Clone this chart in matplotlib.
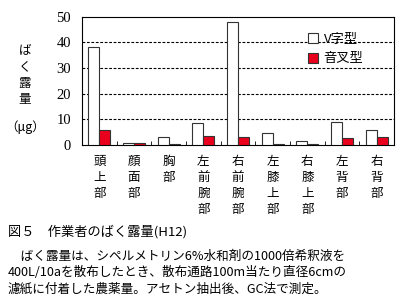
import matplotlib
matplotlib.use("Agg")
import matplotlib.pyplot as plt
import numpy as np

plt.rcParams["font.family"] = ["Noto Sans CJK JP", "DejaVu Sans"]

# ── Data ──────────────────────────────────────────────────────────────────────
parts = ["頭上部", "顔面部", "胸部", "左前腕部", "右前腕部",
         "左膝上部", "右膝上部", "左背部", "右背部"]
v_type = [38.3, 0.7, 3.0, 8.5, 48.0, 4.6, 1.4, 8.9, 5.9]
fork_type = [5.9, 0.7, 0.3, 3.5, 3.0, 0.3, 0.3, 2.7, 3.0]
series_names = ["V字型", "音叉型"]
yticks = [0, 10, 20, 30, 40, 50]

caption = "図５　作業者のばく露量(H12)"
note = ["　ばく露量は、シペルメトリン6%水和剤の1000倍希釈液を",
        "400L/10aを散布したとき、散布通路100m当たり直径6cmの",
        "濾紙に付着した農薬量。アセトン抽出後、GC法で測定。"]

# ── Figure ────────────────────────────────────────────────────────────────────
fig = plt.figure(figsize=(4.0, 3.07), dpi=100)
ax = fig.add_axes([0.205, 0.528, 0.78, 0.417])

x = np.arange(len(parts))
w = 0.32
ax.bar(x - w / 2, v_type, w, color="white", edgecolor="#333333", linewidth=0.8,
       label=series_names[0], zorder=3)
ax.bar(x + w / 2, fork_type, w, color="#e8001c", edgecolor="#333333", linewidth=0.8,
       label=series_names[1], zorder=3)

ax.set_xlim(-0.5, len(parts) - 0.5)
ax.set_ylim(0, 50)
ax.set_yticks(yticks)
ax.set_yticklabels([str(t) for t in yticks], family="Liberation Serif", fontsize=10.5)
ax.tick_params(axis="y", length=0, pad=8)
ax.set_xticks([])
ax.set_xticks(np.arange(len(parts) - 1) + 0.5, minor=True)
ax.tick_params(axis="x", which="minor", direction="in", length=3, color="black")
for t in yticks[1:-1]:
    ax.axhline(t, color="black", linestyle=(0, (2.5, 1.5)), linewidth=0.8, zorder=1)
for s in ax.spines.values():
    s.set_linewidth(0.8)

for xi, name in zip(x, parts):
    ax.text(xi, -0.08, "\n".join(name), transform=ax.get_xaxis_transform(),
            ha="center", va="top", fontsize=9, linespacing=1.3)

ax.legend(loc="upper right", bbox_to_anchor=(0.94, 0.97), frameon=False,
          fontsize=9.5, handlelength=0.8, handleheight=0.8, handletextpad=0.4,
          labelspacing=0.5)

# y label stacked vertically
fig.text(0.062, 0.855, "ば\nく\n露\n量", ha="center", va="top", fontsize=9,
         linespacing=1.3)
fig.text(0.062, 0.585, "（μg）", ha="center", va="center", fontsize=9)

fig.text(0.02, 0.245, caption, ha="left", va="center", fontsize=9.5)
for i, line in enumerate(note):
    fig.text(0.02, 0.165 - i * 0.054, line, ha="left", va="center", fontsize=9.1)

fig.savefig("out.png", dpi=100)
